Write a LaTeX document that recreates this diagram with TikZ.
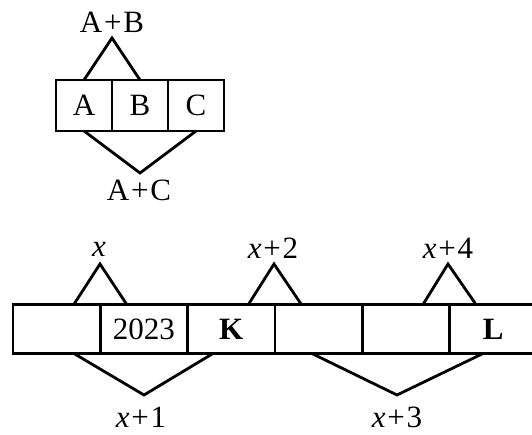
\documentclass[tikz,border=0pt]{standalone}
\usepackage{fontspec}
\setmainfont{Liberation Serif}
\newcommand{\plusop}{\hspace{0.06em}+\hspace{0.06em}}

\begin{document}
\begin{tikzpicture}[line width = 2.8pt, x=1pt, y=1pt]
\tikzstyle{every node}=[font=\fontsize{31}{35}\selectfont, inner sep=0pt];
\tikzstyle{topbox}=[rectangle,draw,outer sep=0pt,minimum width=56pt,minimum height=51pt];
\tikzstyle{rowbox}=[rectangle,draw,outer sep=0pt,minimum width=87.3pt,minimum height=49pt];

\useasboundingbox (0,0) rectangle (532,434);
\clip (0,0) rectangle (532,434);

% upper group
\draw(84,328.5) node[topbox] (A) {A};
\draw(140,328.5) node[topbox] (B) {B};
\draw(196,328.5) node[topbox] (C) {C};

\draw(112,412) node (AB) {A\plusop B};
\draw(139,244) node (AC) {A\plusop C};
\coordinate (ABtop) at (112,396);
\coordinate (ACbot) at (140,261);

\draw (A.north) -- (ABtop) -- (B.north);
\draw (A.south) -- (ACbot) -- (C.south);

% lower row
\draw(56.65,105) node[rowbox] (S1) {};
\draw(143.95,105) node[rowbox] (S2) {2023};
\draw(231.25,105) node[rowbox] (S3) {\textbf{K}};
\draw(318.55,105) node[rowbox] (S4) {};
\draw(405.85,105) node[rowbox] (S5) {};
\draw(493.15,105) node[rowbox] (S6) {\textbf{L}};

\draw(99,185) node (X) {\textit{x}};
\draw(273,186) node (X2) {\textit{x}\plusop 2};
\draw(448,186) node (X4) {\textit{x}\plusop 4};
\draw(141,17) node (X1) {\textit{x}\plusop 1};
\draw(397,17) node (X3) {\textit{x}\plusop 3};
\coordinate (Xtop) at (100,170);
\coordinate (X2top) at (274,170);
\coordinate (X4top) at (448,170);
\coordinate (X1bot) at (144,39);
\coordinate (X3bot) at (397,39);

\draw ([xshift=-26.5pt]S1.north east) -- (Xtop) -- ([xshift=26.5pt]S1.north east);
\draw ([xshift=-26.5pt]S3.north east) -- (X2top) -- ([xshift=26.5pt]S3.north east);
\draw ([xshift=-26.5pt]S5.north east) -- (X4top) -- ([xshift=26.5pt]S5.north east);
\draw ([xshift=-70pt]S2.south) -- (X1bot) -- ([xshift=69pt]S2.south);
\draw ([xshift=37pt]S4.south west) -- (X3bot) -- ([xshift=33.5pt]S6.south west);
\end{tikzpicture}
\end{document}
